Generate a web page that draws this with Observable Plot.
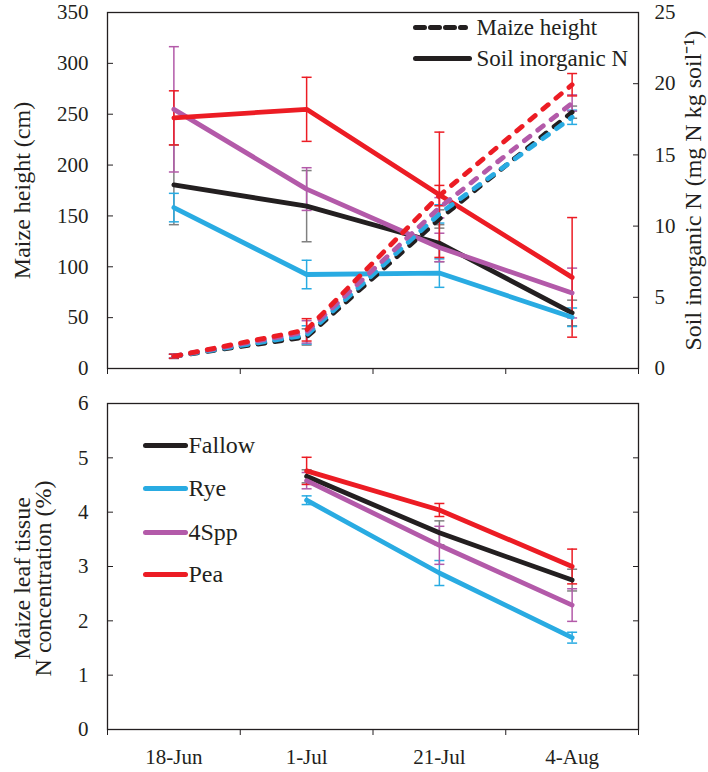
<!DOCTYPE html>
<html><head><meta charset="utf-8">
<script src="https://cdn.jsdelivr.net/npm/d3@7"></script>
<script src="https://cdn.jsdelivr.net/npm/@observablehq/plot@0.6"></script>
<style>
body{margin:0;background:#fff;}
#chart{position:relative;width:708px;height:772px;background:#fff;}
#chart svg{display:block;}
#chart svg, #chart svg text{font-family:"Liberation Serif","Times New Roman",serif !important;}
</style></head><body><div id="chart"></div>
<script>
// ---------- data ----------
const dates = ["18-Jun", "1-Jul", "21-Jul", "4-Aug"];
const treatments = ["Fallow", "Rye", "4Spp", "Pea"];
const lineColors = ["#231f20", "#29abe2", "#b35aa9", "#ec1c24"];
const errColors = ["#808080", "#29abe2", "#b35aa9", "#ec1c24"];

// Maize height (cm), mean and error
const heightFallow = [12, 31, 147, 252];
const heightRye = [12, 33, 152, 247];
const height4Spp = [12, 36, 158, 261];
const heightPea = [12, 38, 170, 279];
const heightErrFallow = [2, 8, 9, 6];
const heightErrRye = [2, 9, 9, 7];
const heightErr4Spp = [2, 11, 10, 8];
const heightErrPea = [2, 11, 10, 11];

// Soil inorganic N (mg N kg soil-1)
const soilFallow = [12.9, 11.4, 8.8, 3.9];
const soilRye = [11.3, 6.6, 6.7, 3.6];
const soil4Spp = [18.2, 12.6, 8.5, 5.3];
const soilPea = [17.6, 18.2, 12.2, 6.4];
const soilErrFallow = [2.8, 2.5, 1.3, 0.9];
const soilErrRye = [1.0, 1.0, 1.0, 0.65];
const soilErr4Spp = [4.4, 1.5, 1.0, 1.75];
const soilErrPea = [1.9, 2.25, 4.4, 4.2];

// Maize leaf tissue N concentration (%)
const leafFallow = [null, 4.66, 3.62, 2.75];
const leafRye = [null, 4.22, 2.88, 1.69];
const leaf4Spp = [null, 4.58, 3.39, 2.29];
const leafPea = [null, 4.76, 4.04, 3.0];
const leafErrFallow = [null, 0.12, 0.22, 0.2];
const leafErrRye = [null, 0.08, 0.23, 0.1];
const leafErr4Spp = [null, 0.15, 0.35, 0.3];
const leafErrPea = [null, 0.25, 0.12, 0.32];

// axis ticks
const heightTicks = [0, 50, 100, 150, 200, 250, 300, 350];
const soilTicks = [0, 5, 10, 15, 20, 25];
const leafTicks = [0, 1, 2, 3, 4, 5, 6];

// ---------- build tables ----------
const heightSeries = [heightFallow, heightRye, height4Spp, heightPea];
const heightErrSeries = [heightErrFallow, heightErrRye, heightErr4Spp, heightErrPea];
const soilSeries = [soilFallow, soilRye, soil4Spp, soilPea];
const soilErrSeries = [soilErrFallow, soilErrRye, soilErr4Spp, soilErrPea];
const leafSeries = [leafFallow, leafRye, leaf4Spp, leafPea];
const leafErrSeries = [leafErrFallow, leafErrRye, leafErr4Spp, leafErrPea];

const k = 350 / 25; // soil N drawn on the left (height) scale, right axis relabels
function table(vals, errs, factor = 1) {
  return dates.map((d, i) => ({date: d, x: i + 0.5, v: vals[i] == null ? null : vals[i] * factor, e: errs[i] == null ? null : errs[i] * factor}))
    .filter(r => r.v != null);
}

const hline = {draw(ctx, size) { const r = Math.sqrt(size / Math.PI); ctx.moveTo(-r, 0); ctx.lineTo(r, 0); }};
const font = "Liberation Serif";
const ink = "#231f20";
const lw = 4.8;

function errMarks(rows, color) {
  return [
    Plot.ruleX(rows, {x: "x", y1: d => d.v - d.e, y2: d => d.v + d.e, stroke: color, strokeWidth: 1.5}),
    Plot.dot(rows, {x: "x", y: d => d.v + d.e, symbol: hline, r: 5, stroke: color, strokeWidth: 1.5}),
    Plot.dot(rows, {x: "x", y: d => d.v - d.e, symbol: hline, r: 5, stroke: color, strokeWidth: 1.5})
  ];
}

// ---------- top panel ----------
const topMarks = [];
treatments.forEach((t, i) => {
  topMarks.push(...errMarks(table(soilSeries[i], soilErrSeries[i], k), errColors[i]));
  topMarks.push(...errMarks(table(heightSeries[i], heightErrSeries[i]), errColors[i]));
});
treatments.forEach((t, i) => {
  topMarks.push(Plot.line(table(soilSeries[i], soilErrSeries[i], k), {x: "x", y: "v", stroke: lineColors[i], strokeWidth: lw}));
});
treatments.forEach((t, i) => {
  topMarks.push(Plot.line(table(heightSeries[i], heightErrSeries[i]), {x: "x", y: "v", stroke: lineColors[i], strokeWidth: lw, strokeDasharray: "7,10", strokeLinecap: "round"}));
});

const topPanel = Plot.plot({
  width: 708, height: 380,
  marginLeft: 107, marginRight: 70, marginTop: 12, marginBottom: 12,
  x: {domain: [0, 4]},
  y: {domain: [0, 350]},
  style: {fontFamily: font, fontSize: "21px", color: ink, background: "#fff", overflow: "visible"},
  marks: [
    ...topMarks,
    Plot.frame({stroke: ink, strokeWidth: 1.3}),
    Plot.axisX({ticks: [0, 1, 2, 3, 4], tickSize: 6, tickFormat: () => "", label: null}),
    Plot.axisY({ticks: heightTicks, tickSize: -6, tickPadding: 25, tickFormat: d => String(d), label: null, fontSize: 21}),
    Plot.axisY({anchor: "right", ticks: soilTicks.map(v => v * k), tickFormat: d => String(Math.round(d / k)), tickSize: -6, tickPadding: 22, label: null, fontSize: 21}),
    Plot.text(["Maize height (cm)"], {frameAnchor: "left", dx: -85, rotate: -90, textAnchor: "middle", lineAnchor: "middle", fontSize: 24, fill: ink}),
    Plot.text(["Soil inorganic N (mg N kg soil\u207B\u00B9)"], {frameAnchor: "right", dx: 55, rotate: -90, textAnchor: "middle", lineAnchor: "middle", fontSize: 24, fill: ink}),
    // legend
    Plot.dot([0], {frameAnchor: "top-left", dx: 333, dy: 15, symbol: hline, r: 25, stroke: ink, strokeWidth: 5, strokeDasharray: "9,6", strokeLinecap: "round"}),
    Plot.dot([0], {frameAnchor: "top-left", dx: 335, dy: 46, symbol: hline, r: 27, stroke: ink, strokeWidth: 5, strokeLinecap: "round"}),
    Plot.text(["Maize height"], {frameAnchor: "top-left", dx: 369, dy: 15, textAnchor: "start", lineAnchor: "middle", fontSize: 23, fill: ink}),
    Plot.text(["Soil inorganic N"], {frameAnchor: "top-left", dx: 369, dy: 46, textAnchor: "start", lineAnchor: "middle", fontSize: 23, fill: ink})
  ]
});

// ---------- bottom panel ----------
const botMarks = [];
treatments.forEach((t, i) => {
  botMarks.push(...errMarks(table(leafSeries[i], leafErrSeries[i]), errColors[i]));
});
treatments.forEach((t, i) => {
  botMarks.push(Plot.line(table(leafSeries[i], leafErrSeries[i]), {x: "x", y: "v", stroke: lineColors[i], strokeWidth: lw}));
});
const legendDy = [42, 85, 129, 171];
treatments.forEach((t, i) => {
  botMarks.push(Plot.dot([t], {frameAnchor: "top-left", dx: 58, dy: legendDy[i], symbol: hline, r: 20, stroke: lineColors[i], strokeWidth: 5, strokeLinecap: "round"}));
  botMarks.push(Plot.text([t], {frameAnchor: "top-left", dx: 81, dy: legendDy[i], textAnchor: "start", lineAnchor: "middle", fontSize: 24, fill: ink}));
});

const bottomPanel = Plot.plot({
  width: 708, height: 392,
  marginLeft: 107, marginRight: 70, marginTop: 23, marginBottom: 43,
  x: {domain: [0, 4]},
  y: {domain: [0, 6]},
  style: {fontFamily: font, fontSize: "21px", color: ink, background: "#fff", overflow: "visible"},
  marks: [
    ...botMarks,
    Plot.frame({stroke: ink, strokeWidth: 1.3}),
    Plot.axisX({ticks: [0, 1, 2, 3, 4], tickSize: 6, tickFormat: () => "", label: null}),
    Plot.axisX({ticks: dates.map((d, i) => i + 0.5), tickSize: 0, tickPadding: 20, tickFormat: v => dates[Math.round(v - 0.5)], label: null, fontSize: 21}),
    Plot.axisY({ticks: leafTicks, tickSize: -6, tickPadding: 25, tickFormat: d => String(d), label: null, fontSize: 21}),
    Plot.axisY({anchor: "right", ticks: leafTicks, tickSize: -6, tickFormat: () => "", label: null}),
    Plot.text(["Maize leaf tissue\nN concentration (%)"], {frameAnchor: "left", dx: -74, dy: 12, rotate: -90, textAnchor: "middle", lineAnchor: "middle", fontSize: 24, lineHeight: 0.9, fill: ink})
  ]
});

const chart = document.getElementById("chart");
chart.appendChild(topPanel);
chart.appendChild(bottomPanel);
</script>
</body></html>
